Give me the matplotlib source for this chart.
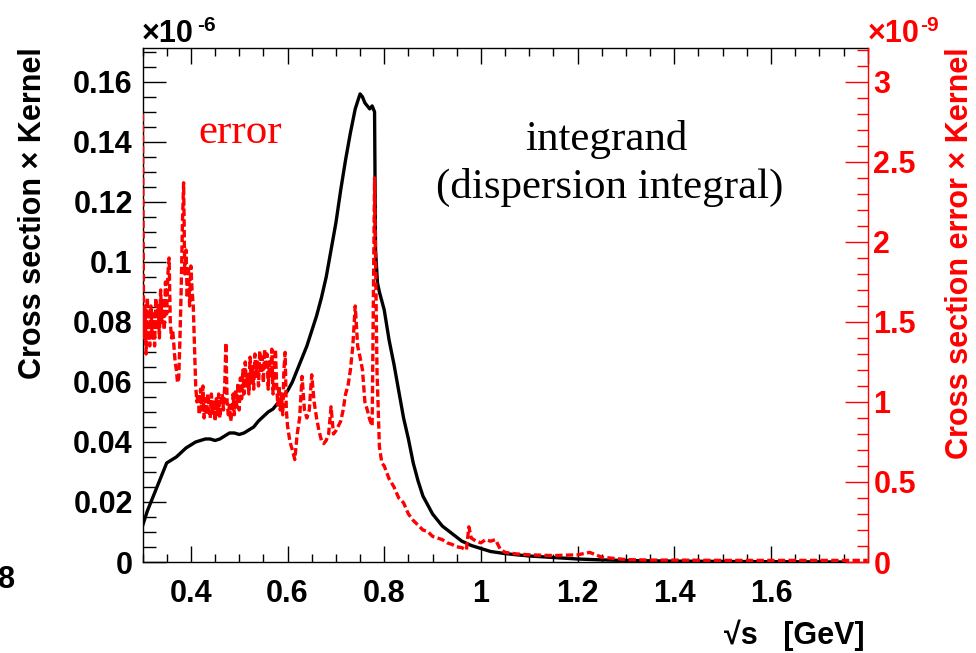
import matplotlib
matplotlib.use('Agg')
import numpy as np
import matplotlib.pyplot as plt
from matplotlib.ticker import MultipleLocator, FuncFormatter

plt.rcParams.update({
    'font.family': ['Liberation Sans', 'DejaVu Sans'],
    'font.size': 22,
    'font.weight': 'bold',
})

# --- integrand (black, left axis, units of 1e-6) ---
x_int = [0.300, 0.310, 0.320, 0.330, 0.340, 0.350, 0.360, 0.370, 0.380, 0.390,
         0.400, 0.410, 0.420, 0.430, 0.440, 0.450, 0.460, 0.470, 0.480, 0.490,
         0.500, 0.510, 0.520, 0.530, 0.540, 0.550, 0.560, 0.570, 0.580, 0.590,
         0.600, 0.610, 0.620, 0.630, 0.640, 0.650, 0.660, 0.670, 0.680, 0.690,
         0.700, 0.710, 0.720, 0.730, 0.740, 0.750, 0.755, 0.760, 0.770, 0.775,
         0.780, 0.782, 0.786, 0.790, 0.800, 0.810, 0.820, 0.830, 0.840, 0.850,
         0.860, 0.870, 0.880, 0.890, 0.900, 0.920, 0.940, 0.960, 0.980, 1.000,
         1.020, 1.050, 1.080, 1.100, 1.150, 1.200, 1.250, 1.300, 1.400, 1.500,
         1.600, 1.750]
y_int = [0.012, 0.017, 0.021, 0.025, 0.029, 0.033, 0.034, 0.035, 0.0365, 0.038,
         0.039, 0.040, 0.0405, 0.041, 0.041, 0.0405, 0.041, 0.042, 0.043, 0.043,
         0.0425, 0.043, 0.044, 0.045, 0.047, 0.0485, 0.050, 0.051, 0.053, 0.055,
         0.057, 0.060, 0.064, 0.068, 0.072, 0.077, 0.082, 0.088, 0.095, 0.104,
         0.113, 0.124, 0.134, 0.143, 0.151, 0.156, 0.155, 0.153, 0.151, 0.152,
         0.150, 0.104, 0.093, 0.090, 0.084, 0.074, 0.066, 0.057, 0.048, 0.041,
         0.033, 0.027, 0.022, 0.019, 0.016, 0.012, 0.0095, 0.007, 0.0055, 0.0045,
         0.0035, 0.0028, 0.0023, 0.002, 0.0015, 0.001, 0.0007, 0.0005, 0.0003, 0.0002,
         0.0001, 0.0]

# --- error (red, right axis, units of 1e-9) ---
# fine bins 0.300 .. 0.600, width 0.0025
ERR_FINE_START = 0.300
ERR_FINE_STEP = 0.0025
y_err_fine = [2.80, 1.40, 1.60, 1.30, 1.65, 1.45, 1.35, 1.60, 1.40, 1.55,
              1.35, 1.65, 1.45, 1.60, 1.40, 1.70, 1.50, 1.65, 1.45, 1.75,
              1.55, 1.80, 1.90, 1.50, 1.40, 1.45, 1.35, 1.25, 1.20, 1.12,
              1.15, 1.40, 1.70, 2.10, 2.37, 1.80, 1.95, 1.65, 1.85, 1.60,
              1.85, 1.70, 1.60, 1.35, 1.10, 1.00, 1.05, 0.92, 1.08, 0.95,
              1.10, 0.90, 1.02, 0.92, 1.05, 0.95, 0.90, 1.05, 0.93, 1.00,
              0.88, 1.02, 0.92, 1.05, 0.90, 0.98, 1.05, 0.95, 1.10, 1.37,
              1.00, 0.92, 0.98, 0.88, 0.95, 1.05, 0.92, 1.08, 0.97, 1.12,
              0.95, 1.15, 1.02, 1.20, 1.05, 1.25, 1.10, 1.18, 1.05, 1.28,
              1.12, 1.22, 1.08, 1.30, 1.15, 1.25, 1.10, 1.32, 1.18, 1.28,
              1.12, 1.33, 1.20, 1.30, 1.08, 1.25, 1.15, 1.33, 1.05, 1.22,
              1.33, 1.10, 0.98, 1.10, 0.95, 1.05, 0.92, 1.20, 1.31, 0.95,
              0.85]
# coarser part above 0.600
x_err_coarse = [0.605, 0.610, 0.615, 0.620, 0.625, 0.630, 0.635, 0.640, 0.645,
                0.650, 0.655, 0.660, 0.665, 0.670, 0.675, 0.680, 0.685, 0.690, 0.695,
                0.700, 0.705, 0.710, 0.715, 0.720, 0.725, 0.730, 0.735, 0.740, 0.745,
                0.750, 0.755, 0.760, 0.765, 0.770, 0.775, 0.780, 0.785, 0.790, 0.795,
                0.800, 0.810, 0.820, 0.830, 0.840, 0.850, 0.860, 0.870, 0.880, 0.890,
                0.900, 0.910, 0.920, 0.930, 0.940, 0.950, 0.960, 0.970, 0.975, 0.980,
                0.990, 1.000, 1.010, 1.020, 1.030, 1.040, 1.050, 1.075, 1.100, 1.150,
                1.200, 1.225, 1.250, 1.300, 1.350, 1.400, 1.500, 1.600, 1.700, 1.800]
y_err_coarse = [0.75, 0.70, 0.64, 0.80, 0.90, 1.16, 0.95, 0.90, 0.95,
                1.17, 1.00, 0.90, 0.82, 0.76, 0.74, 0.76, 0.80, 0.97, 0.80,
                0.82, 0.85, 0.88, 0.95, 1.05, 1.10, 1.20, 1.35, 1.60, 1.35,
                1.28, 1.20, 1.00, 0.95, 0.89, 0.85, 2.40, 1.20, 0.72, 0.62,
                0.60, 0.52, 0.47, 0.40, 0.37, 0.30, 0.26, 0.23, 0.20, 0.19,
                0.16, 0.15, 0.14, 0.12, 0.11, 0.095, 0.09, 0.075, 0.22, 0.15,
                0.13, 0.12, 0.14, 0.13, 0.14, 0.08, 0.06, 0.05, 0.045, 0.04,
                0.045, 0.06, 0.03, 0.015, 0.012, 0.012, 0.01, 0.01, 0.01, 0.01]

x_err = list(ERR_FINE_START + ERR_FINE_STEP * np.arange(len(y_err_fine))) + x_err_coarse
y_err = y_err_fine + y_err_coarse

RED = '#ff0000'
W, H = 976, 653


def fx(px):
    return px / W


def fy(py):
    return 1 - py / H


fig = plt.figure(figsize=(W / 100, H / 100), dpi=100)
ax = fig.add_axes([fx(142.5), fy(562), fx(867.7) - fx(142.5), fy(47.7) - fy(562)])
ax2 = ax.twinx()

ax.plot(x_int, y_int, color='black', lw=2.4, zorder=3)
ax2.plot(x_err, y_err, color=RED, lw=2.4, linestyle=(0, (2.2, 1.0)), zorder=4)

ax.set_xlim(0.3, 1.8)
ax.set_ylim(0, 0.1714)
ax2.set_ylim(0, 3.214)

fmt = FuncFormatter(lambda v, p: '%g' % round(v, 6))
xfmt = FuncFormatter(lambda v, p: '' if v > 1.79 else '%g' % round(v, 6))
ax.xaxis.set_major_locator(MultipleLocator(0.2))
ax.xaxis.set_minor_locator(MultipleLocator(0.05))
ax.yaxis.set_major_locator(MultipleLocator(0.02))
ax.yaxis.set_minor_locator(MultipleLocator(0.005))
ax2.yaxis.set_major_locator(MultipleLocator(0.5))
ax2.yaxis.set_minor_locator(MultipleLocator(0.1))
ax.xaxis.set_major_formatter(xfmt)
ax.yaxis.set_major_formatter(fmt)
ax2.yaxis.set_major_formatter(fmt)

ax.tick_params(axis='x', which='both', direction='in', top=True, width=1,
               labelsize=22, pad=12)
ax.tick_params(axis='x', which='major', length=11.5)
ax.tick_params(axis='x', which='minor', length=5.8)
ax.tick_params(axis='y', which='both', direction='in', right=False, width=1,
               labelsize=22, pad=7)
ax.tick_params(axis='y', which='major', length=16.5)
ax.tick_params(axis='y', which='minor', length=9.4)
ax2.tick_params(axis='y', which='both', direction='in', colors=RED, width=1,
                labelsize=22, pad=4)
ax2.tick_params(axis='y', which='major', length=16.5)
ax2.tick_params(axis='y', which='minor', length=8)

for a in (ax, ax2):
    for s in a.spines.values():
        s.set_linewidth(1.0)
ax.spines['right'].set_visible(False)
ax2.spines['left'].set_visible(False)
ax2.spines['top'].set_visible(False)
ax2.spines['bottom'].set_visible(False)
ax2.spines['right'].set_color(RED)

# axis titles and multipliers
fig.text(fx(33), fy(47), 'Cross section \u00d7 Kernel', rotation=90,
         ha='center', va='top', fontsize=22)
fig.text(fx(960), fy(47), 'Cross section error \u00d7 Kernel', rotation=90,
         ha='center', va='top', fontsize=22, color=RED)
fig.text(fx(865), fy(635), '\u221as   [GeV]', ha='right', va='center', fontsize=22)
fig.text(fx(142), fy(42), '\u00d710', ha='left', va='baseline', fontsize=22)
fig.text(fx(197), fy(31), '-6', ha='left', va='baseline', fontsize=15)
fig.text(fx(868), fy(42), '\u00d710', ha='left', va='baseline', fontsize=22, color=RED)
fig.text(fx(920), fy(31), '-9', ha='left', va='baseline', fontsize=15, color=RED)
fig.text(fx(15), fy(580), '8', ha='right', va='center', fontsize=22)

# annotations
serif = ['Liberation Serif', 'DejaVu Serif']
fig.text(fx(198), fy(143), 'error', ha='left', va='baseline', fontsize=31,
         color=RED, family=serif, weight='normal')
fig.text(fx(606), fy(150), 'integrand', ha='center', va='baseline', fontsize=31,
         family=serif, weight='normal')
fig.text(fx(610), fy(198), '(dispersion integral)', ha='center', va='baseline',
         fontsize=31, family=serif, weight='normal')

fig.savefig('out.png', dpi=100)
